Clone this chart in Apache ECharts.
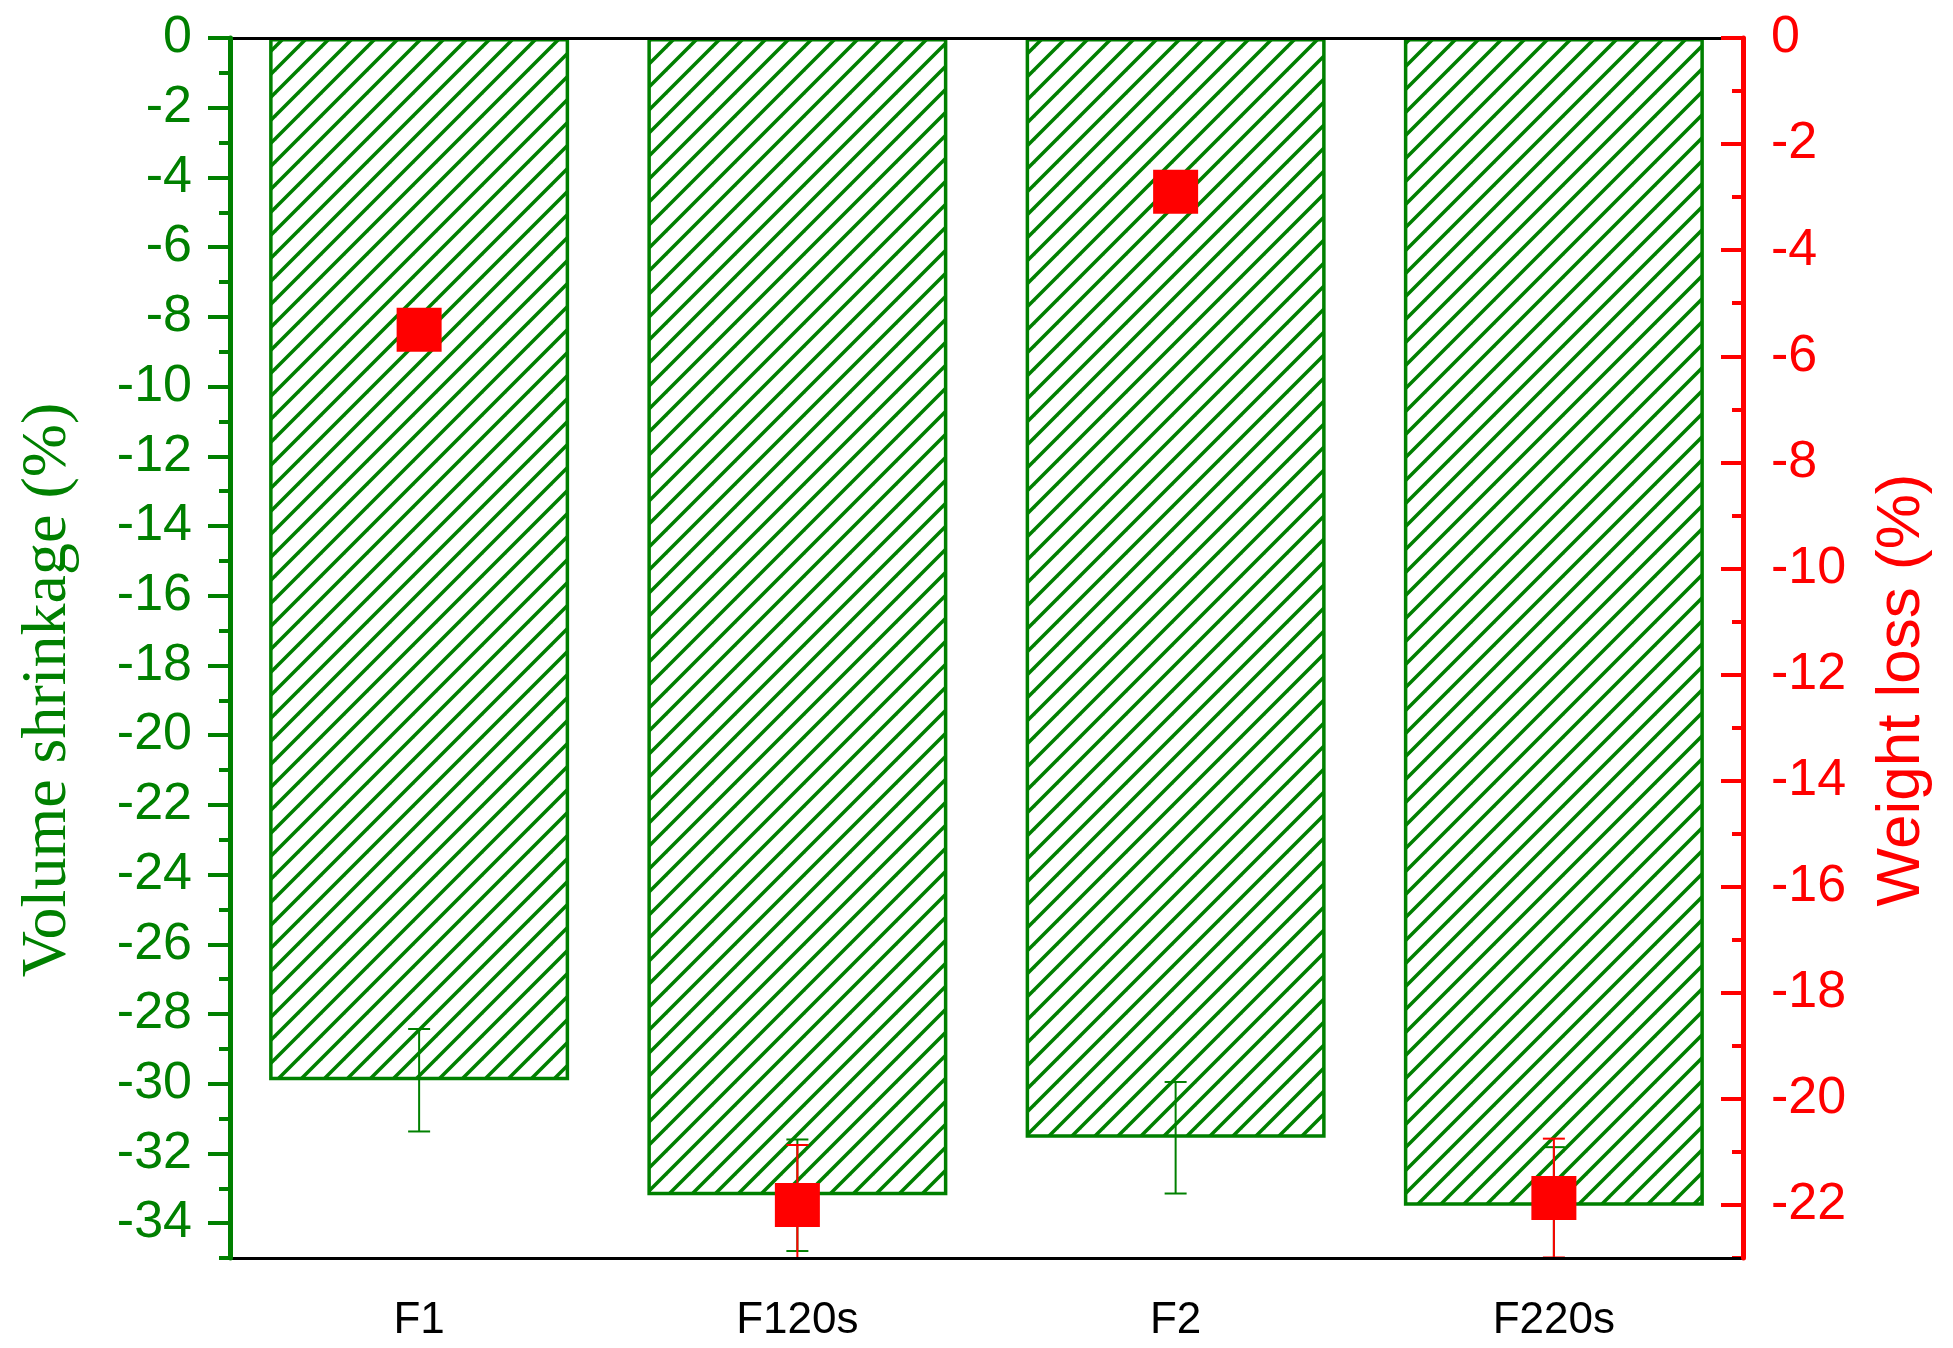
<!DOCTYPE html>
<html>
<head>
<meta charset="utf-8">
<script src="https://cdn.jsdelivr.net/npm/echarts@6/dist/echarts.min.js"></script>
<style>
  html, body { margin: 0; padding: 0; background: #fff; }
  #chart { width: 1953px; height: 1348px; }
</style>
</head>
<body>
<div id="chart"></div>
<script>
// categories
var categories = ['F1', 'F120s', 'F2', 'F220s'];

// volume shrinkage (%) -- bars, left axis
var volumeShrinkage = [-29.9, -33.2, -31.55, -33.5];
var volumeErr = [1.47, 1.6, 1.6, 1.68];

// weight loss (%) -- squares, right axis
var weightLoss = [-5.5, -22.0, -2.9, -21.87];
var weightErr = [0.3, 1.13, 0.3, 1.12];

// tick values
var leftMajorTicks = [0, -2, -4, -6, -8, -10, -12, -14, -16, -18, -20, -22, -24, -26, -28, -30, -32, -34];
var leftMinorTicks = [-1, -3, -5, -7, -9, -11, -13, -15, -17, -19, -21, -23, -25, -27, -29, -31, -33, -35];
var rightMajorTicks = [0, -2, -4, -6, -8, -10, -12, -14, -16, -18, -20, -22];
var rightMinorTicks = [-1, -3, -5, -7, -9, -11, -13, -15, -17, -19, -21, -23];

var GREEN = '#008000';
var RED = '#ff0000';

// diagonal hatch tile ("/" lines)
function makeHatch(color) {
  var T = 23;
  var c = document.createElement('canvas');
  c.width = T;
  c.height = T;
  var ctx = c.getContext('2d');
  ctx.fillStyle = '#fff';
  ctx.fillRect(0, 0, T, T);
  ctx.strokeStyle = color;
  ctx.lineWidth = 3.5;
  for (var k = -1; k <= 1; k++) {
    ctx.beginPath();
    ctx.moveTo(k * T - 2, T + 2);
    ctx.lineTo(k * T + T + 2, -2);
    ctx.stroke();
  }
  return c;
}

var chart = echarts.init(document.getElementById('chart'));

// error bar drawer (vertical line + two caps)
function errorBarRenderer(color) {
  return function (params, api) {
    var x = api.value(0);
    var lo = api.coord([x, api.value(1)]);
    var hi = api.coord([x, api.value(2)]);
    var hw = 11;
    var st = { stroke: color, lineWidth: 2 };
    return {
      type: 'group',
      children: [
        { type: 'line', shape: { x1: hi[0], y1: hi[1], x2: lo[0], y2: lo[1] }, style: st },
        { type: 'line', shape: { x1: hi[0] - hw, y1: hi[1], x2: hi[0] + hw, y2: hi[1] }, style: st },
        { type: 'line', shape: { x1: lo[0] - hw, y1: lo[1], x2: lo[0] + hw, y2: lo[1] }, style: st }
      ]
    };
  };
}

var option = {
  backgroundColor: '#fff',
  animation: false,
  grid: {
    left: 230,
    right: 210,
    top: 38,
    bottom: 90,
    show: false
  },
  xAxis: [
    {
      type: 'category',
      position: 'bottom',
      data: categories,
      z: 10,
      axisLine: { onZero: false, lineStyle: { color: '#000', width: 3 } },
      axisTick: { alignWithLabel: true, length: 25, lineStyle: { color: '#000', width: 3 } },
      axisLabel: { color: '#000', fontSize: 44, fontFamily: 'Liberation Sans', margin: 41 },
      splitLine: { show: false }
    },
    {
      // boundary ticks
      type: 'category',
      position: 'bottom',
      offset: 0,
      data: categories,
      axisLine: { show: false, onZero: false },
      axisTick: { length: 13, lineStyle: { color: '#000', width: 3 } },
      axisLabel: { show: false },
      splitLine: { show: false }
    },
    {
      // top frame line
      type: 'category',
      position: 'top',
      offset: 0,
      data: categories,
      z: 10,
      axisLine: { onZero: false, lineStyle: { color: '#000', width: 3 } },
      axisTick: { show: false },
      axisLabel: { show: false },
      splitLine: { show: false }
    }
  ],
  yAxis: [
    {
      type: 'value',
      position: 'left',
      offset: 0,
      min: -35,
      max: 0,
      z: 11,
      name: 'Volume shrinkage (%)',
      nameLocation: 'middle',
      nameRotate: 90,
      nameGap: 150,
      nameTextStyle: {
        color: GREEN, fontSize: 64, fontFamily: 'Liberation Serif',
        padding: [0, 84, 0, 0]
      },
      axisLine: { show: true, lineStyle: { color: GREEN, width: 5 } },
      axisTick: { show: true, customValues: leftMajorTicks, length: 22, lineStyle: { color: GREEN, width: 4 } },
      axisLabel: { customValues: leftMajorTicks, color: GREEN, fontSize: 52, fontFamily: 'Liberation Sans', margin: 38 },
      splitLine: { show: false }
    },
    {
      type: 'value',
      position: 'right',
      offset: 0,
      min: -23,
      max: 0,
      z: 11,
      name: 'Weight loss (%)',
      nameLocation: 'middle',
      nameRotate: 90,
      nameGap: 128,
      nameTextStyle: {
        color: RED, fontSize: 62, fontFamily: 'Liberation Sans',
        padding: [0, 84, 0, 0]
      },
      axisLine: { show: true, lineStyle: { color: RED, width: 5 } },
      axisTick: { show: true, inside: true, customValues: rightMajorTicks, length: 22, lineStyle: { color: RED, width: 4 } },
      axisLabel: { customValues: rightMajorTicks, color: RED, fontSize: 52, fontFamily: 'Liberation Sans', margin: 28 },
      splitLine: { show: false }
    },
    {
      // left minor ticks
      type: 'value',
      position: 'left',
      offset: 0,
      min: -35,
      max: 0,
      axisLine: { show: false },
      axisTick: { show: true, customValues: leftMinorTicks, length: 11, lineStyle: { color: GREEN, width: 4 } },
      axisLabel: { show: false },
      splitLine: { show: false }
    },
    {
      // right minor ticks
      type: 'value',
      position: 'right',
      offset: 0,
      min: -23,
      max: 0,
      axisLine: { show: false },
      axisTick: { show: true, inside: true, customValues: rightMinorTicks, length: 11, lineStyle: { color: RED, width: 4 } },
      axisLabel: { show: false },
      splitLine: { show: false }
    }
  ],
  series: [
    {
      name: 'Volume shrinkage',
      type: 'bar',
      xAxisIndex: 0,
      yAxisIndex: 0,
      data: volumeShrinkage,
      barWidth: 300,
      itemStyle: {
        color: { image: makeHatch(GREEN), repeat: 'repeat' },
        borderColor: GREEN,
        borderWidth: 3.5
      },
      z: 2
    },
    {
      name: 'Volume error',
      type: 'custom',
      xAxisIndex: 0,
      yAxisIndex: 0,
      clip: true,
      renderItem: errorBarRenderer(GREEN),
      encode: { x: 0, y: [1, 2] },
      data: volumeShrinkage.map(function (v, i) { return [i, v - volumeErr[i], v + volumeErr[i]]; }),
      z: 3
    },
    {
      name: 'Weight error',
      type: 'custom',
      xAxisIndex: 0,
      yAxisIndex: 1,
      clip: true,
      renderItem: errorBarRenderer(RED),
      encode: { x: 0, y: [1, 2] },
      data: weightLoss.map(function (v, i) { return [i, v - weightErr[i], v + weightErr[i]]; }),
      z: 4
    },
    {
      name: 'Weight loss',
      type: 'scatter',
      xAxisIndex: 0,
      yAxisIndex: 1,
      data: weightLoss,
      symbol: 'rect',
      symbolSize: [45, 44],
      itemStyle: { color: RED, opacity: 1 },
      z: 5
    }
  ]
};

chart.setOption(option);
</script>
</body>
</html>
